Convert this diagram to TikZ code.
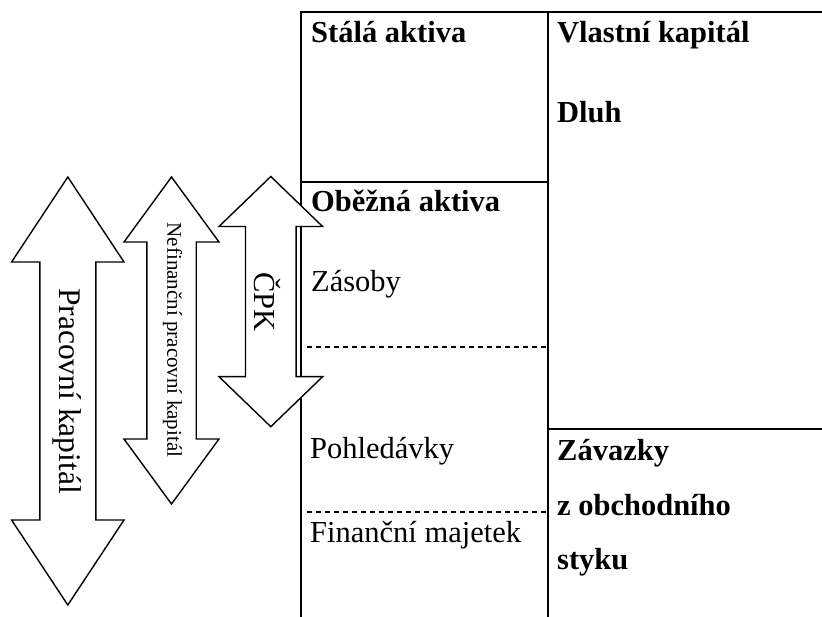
\documentclass[tikz,border=0pt]{standalone}
\usepackage{fontspec}
\setmainfont{Liberation Serif}
\tikzset{
  rule/.style     = {line width=1.4pt},
  split/.style    = {line width=1.4pt, dash pattern=on 5pt off 4pt},
  flow/.style     = {draw, line width=1.4pt, fill=white, line join=miter},
  title/.style    = {anchor=base west, inner sep=0pt,
                     font=\fontsize{30.5}{36}\selectfont\bfseries},
  item/.style     = {anchor=base west, inner sep=0pt,
                     font=\fontsize{30.5}{36}\selectfont},
  flowtext/.style = {rotate=-90, inner sep=0pt}
}
\begin{document}
\begin{tikzpicture}[x=1pt,y=-1pt]
  \useasboundingbox (0,0) rectangle (822,617);

  \draw[rule] (301,617) -- (301,12) -- (822,12);
  \draw[rule] (548,12) -- (548,617);
  \draw[rule] (301,182) -- (548,182);
  \draw[rule] (548,429) -- (822,429);
  \draw[split] (307,347) -- (548,347);
  \draw[split] (307,512) -- (548,512);

  \node[title] (stala)   at (311,43)  {Stálá aktiva};
  \node[title] (obezna)  at (311,212) {Oběžná aktiva};
  \node[item]  (zasoby)  at (311,292) {Zásoby};
  \node[item]  (pohled)  at (310,458) {Pohledávky};
  \node[item]  (financ)  at (310,542) {Finanční majetek};
  \node[title] (vlastni) at (557,43)  {Vlastní kapitál};
  \node[title] (dluh)    at (557,123) {Dluh};
  \node[title] (zavazky) at (557,460) {Závazky};
  \node[title] (zobch)   at (557,515) {z obchodního};
  \node[title] (styku)   at (557,569) {styku};

  \foreach \cx/\ty/\by/\sw/\hw/\hl in {67.8/177/605/28/56.2/85,
                                       171.5/177/504/24.7/47.5/65,
                                       270.8/176.5/426.7/25.3/51.8/50}
    \draw[flow] (\cx,\ty) -- (\cx+\hw,\ty+\hl) -- (\cx+\sw,\ty+\hl)
      -- (\cx+\sw,\by-\hl) -- (\cx+\hw,\by-\hl) -- (\cx,\by)
      -- (\cx-\hw,\by-\hl) -- (\cx-\sw,\by-\hl) -- (\cx-\sw,\ty+\hl)
      -- (\cx-\hw,\ty+\hl) -- cycle;

  \node[flowtext, font=\fontsize{31.5}{36}\selectfont] (pk)  at (67,391)
    {Pracovní kapitál};
  \node[flowtext, font=\fontsize{21}{25}\selectfont]   (npk) at (172.5,340)
    {Nefinanční pracovní kapitál};
  \node[flowtext, font=\fontsize{30.5}{36}\selectfont] (cpk) at (267.5,301.7)
    {ČPK};
\end{tikzpicture}
\end{document}
